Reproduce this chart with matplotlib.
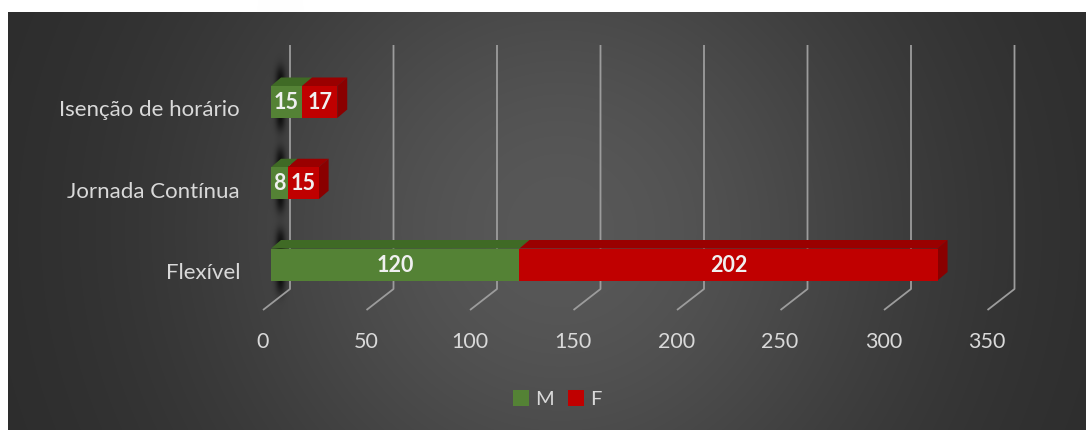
import numpy as np
import matplotlib
matplotlib.use("Agg")
import matplotlib.pyplot as plt
from matplotlib.patches import Polygon, Patch

# ---- data ----
categories = ["Flexível", "Jornada Contínua", "Isenção de horário"]
series_names = ["M", "F"]
values_m = [120, 8, 15]
values_f = [202, 15, 17]
xticks = [0, 50, 100, 150, 200, 250, 300, 350]

# ---- style ----
front_cols = ["#548235", "#c00000"]
top_cols = ["#3f6a25", "#9a0000"]
side_col = "#8a0000"
text_col = "#d9d9d9"
label_col = "#f0f0f0"
grid_col = "#9c9c9c"
FONT = "Lato"

W, H = 1086, 430
fig = plt.figure(figsize=(W / 100, H / 100), dpi=100)

# background (radial gradient) in pixel space
bg = fig.add_axes([0, 0, 1, 1])
bg.set_xlim(0, W)
bg.set_ylim(H, 0)
bg.axis("off")
yy, xx = np.mgrid[0:H, 0:W]
r = np.sqrt(((xx - 560) / 560.0) ** 2 + ((yy - 230) / 560.0) ** 2)
g = (42 + 46 * np.exp(-(r / 0.65) ** 2)) / 255.0
img = np.dstack([g, g, g])
img[:12, :, :] = 1.0
img[:, :8, :] = 1.0

# bar shadows painted into the background (soft dark blur behind the left end)
K = 2.07          # px per unit
X0 = 271.0        # px of value 0 on bar front plane
YC0 = 264.5       # px of category 0 center
DY = 81.25        # px between categories
for i in range(len(categories)):
    cyp = YC0 - DY * i - 4
    sh = np.exp(-0.5 * ((xx - 280) / 3.5) ** 2) / (1.0 + np.exp((np.abs(yy - cyp) - 30) / 4.0))
    sh = np.clip(sh * 0.8, 0, 1)
    img = img * (1 - sh[..., None])
bg.imshow(img, extent=(0, W, H, 0), interpolation="bilinear", aspect="auto")

# main axes: x in value units, y in category index
ax = fig.add_axes([0, 0, 1, 1])
ax.set_xlim(-X0 / K, (W - X0) / K)
ax.set_ylim((YC0 - H) / DY, YC0 / DY)
ax.axis("off")
ax.patch.set_alpha(0)

def dxp(px):
    return px / K

def ypx(py):
    return (YC0 - py) / DY

# back wall grid + floor lines
for v in xticks:
    xb = v + dxp(290 - X0)
    xf = v + dxp(263 - X0)
    ax.plot([xb, xb, xf], [ypx(45), ypx(289), ypx(310)], color=grid_col,
            lw=1.3, zorder=1, solid_capstyle="butt")
    ax.text(v + dxp(262.5 - X0), ypx(348), str(v), ha="center", va="baseline",
            color=text_col, fontsize=15.5, family=FONT, zorder=5)

# 3D stacked bars
hbar = 32 / DY
ddx = dxp(10)
ddy = 8.5 / DY
for i, cat in enumerate(categories):
    vals = [values_m[i], values_f[i]]
    left = 0
    for s, v in enumerate(vals):
        ax.barh(i, v, left=left, height=hbar, color=front_cols[s], zorder=4, linewidth=0)
        top = i + hbar / 2
        ax.add_patch(Polygon([(left, top), (left + v, top), (left + v + ddx, top + ddy),
                              (left + ddx, top + ddy)], closed=True,
                             facecolor=top_cols[s], edgecolor="none", zorder=3))
        ax.text(left + v / 2, i - 0.5 / DY, str(v), ha="center", va="center", color=label_col,
                fontsize=15.5, fontweight="bold", family=FONT, zorder=6)
        left += v
    bot = i - hbar / 2
    top = i + hbar / 2
    ax.add_patch(Polygon([(left, bot), (left, top), (left + ddx, top + ddy),
                          (left + ddx, bot + ddy)], closed=True,
                         facecolor=side_col, edgecolor="none", zorder=3))
    ax.text(dxp(240 - X0), i - 14.5 / DY, cat, ha="right", va="baseline",
            color=text_col, fontsize=16, family=FONT, zorder=5)

# legend
handles = [Patch(facecolor=front_cols[0], edgecolor="none", label=series_names[0]),
           Patch(facecolor=front_cols[1], edgecolor="none", label=series_names[1])]
leg = fig.legend(handles=handles, loc="center", bbox_to_anchor=(557 / W, 1 - 399 / H),
                 ncol=2, frameon=False, handlelength=0.8, handleheight=0.8,
                 handletextpad=0.3, columnspacing=0.7, prop={"family": FONT, "size": 14.5})
for t in leg.get_texts():
    t.set_color(text_col)

fig.savefig("out.png", dpi=100)
